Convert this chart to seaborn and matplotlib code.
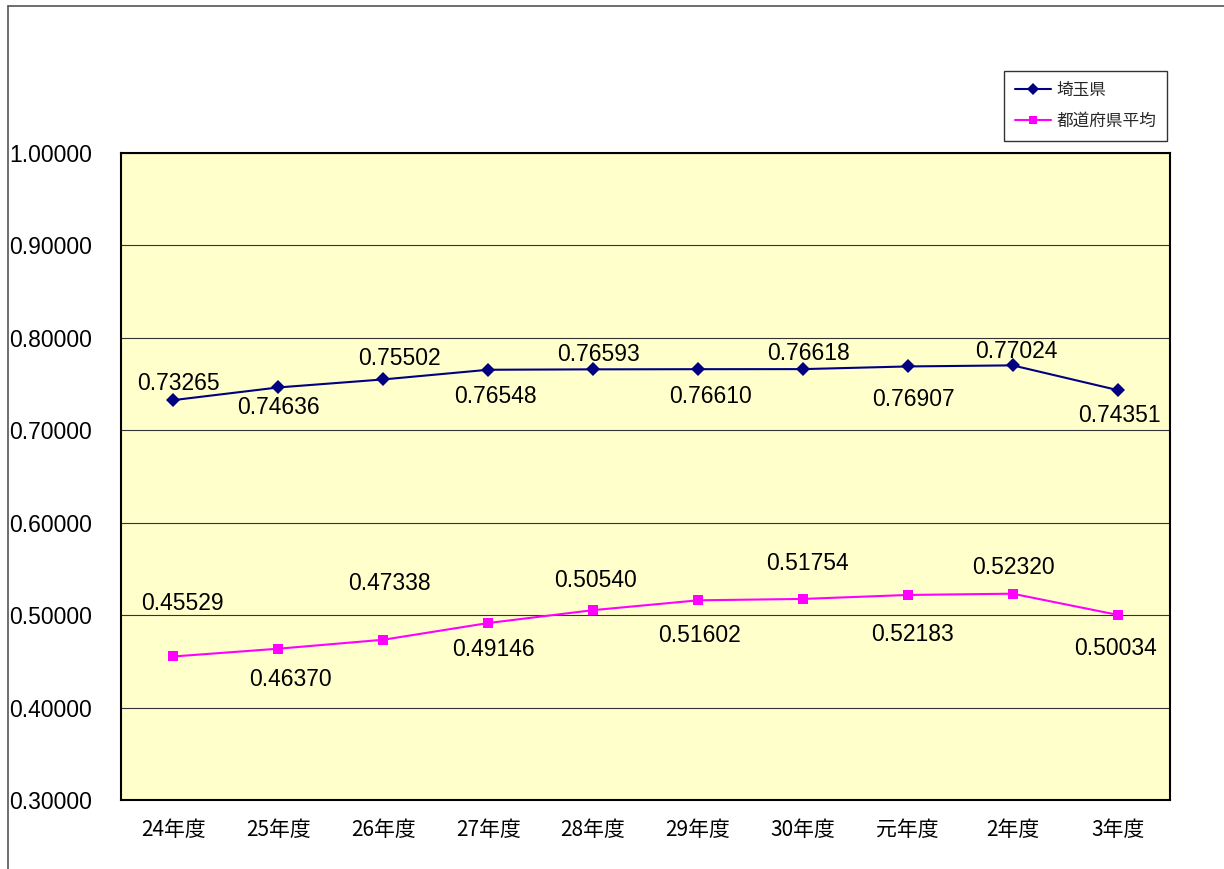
import numpy as np
import pandas as pd
import seaborn as sns
import matplotlib.pyplot as plt
from matplotlib.lines import Line2D

years = ['24年度', '25年度', '26年度', '27年度', '28年度', '29年度', '30年度', '元年度', '2年度', '3年度']
saitama = [0.73265, 0.74636, 0.75502, 0.76548, 0.76593, 0.76610, 0.76618, 0.76907, 0.77024, 0.74351]
average = [0.45529, 0.46370, 0.47338, 0.49146, 0.50540, 0.51602, 0.51754, 0.52183, 0.52320, 0.50034]
series_names = ['埼玉県', '都道府県平均']

# label offsets (pixels), (dx, dy) with dy up
off_saitama = [(5, 17), (0, -20), (16, 21), (7, -27), (5, 15), (13, -27), (6, 16), (6, -33), (4, 14), (2, -25)]
off_average = [(9, 53), (12, -31), (6, 56), (5, -26), (2, 30), (2, -35), (5, 35), (5, -40), (1, 26), (-2, -34)]

df = pd.DataFrame({
    'year': years * 2,
    'value': saitama + average,
    'series': [series_names[0]] * len(years) + [series_names[1]] * len(years),
})

sns.set_style('white')
plt.rcParams['font.family'] = ['Noto Sans CJK JP', 'DejaVu Sans']
num_font = ['Liberation Sans', 'DejaVu Sans']

fig = plt.figure(figsize=(12.24, 8.69), dpi=100)
ax = fig.add_axes([121 / 1224, 1 - 800 / 869, (1170 - 121) / 1224, (800 - 153) / 869])
ax.set_facecolor('#FFFFCC')

palette = {'埼玉県': '#000080', '都道府県平均': '#FF00FF'}
sns.lineplot(data=df, x='year', y='value', hue='series', style='series',
             markers={'埼玉県': 'D', '都道府県平均': 's'}, dashes=False,
             palette=palette, ax=ax, linewidth=1.5, markersize=7,
             markeredgewidth=0, sort=False)

ticks = np.arange(0.3, 1.0001, 0.1)
ax.set_ylim(0.3, 1.0)
ax.set_xlim(-0.5, len(years) - 0.5)
ax.set_yticks(ticks)
ax.set_yticklabels([f'{v:.5f}' for v in ticks], fontsize=16.5, family=num_font, color='black')
ax.yaxis.grid(True, color='#333333', linewidth=0.8)
ax.set_axisbelow(True)
ax.tick_params(axis='y', length=0, pad=21)

ax.set_xticks(range(len(years)))
ax.set_xticklabels(years, fontsize=15, color='black')
ax.set_xticks(np.arange(0.5, len(years) - 1, 1.0), minor=True)
ax.tick_params(axis='x', which='major', length=0, pad=14)
ax.tick_params(axis='x', which='minor', direction='in', length=6, width=1, color='#333333')
ax.set_xlabel('')
ax.set_ylabel('')
for s in ax.spines.values():
    s.set_color('black')
    s.set_linewidth(1.5)

# data labels
for vals, offs in [(saitama, off_saitama), (average, off_average)]:
    for i, (v, (dx, dy)) in enumerate(zip(vals, offs)):
        ax.annotate(f'{v:.5f}', (i, v), xytext=(dx * 0.72, dy * 0.72), textcoords='offset points',
                    ha='center', va='center', fontsize=16.5, family=num_font, color='black')

leg = ax.legend(loc='upper right', bbox_to_anchor=(1167 / 1224, 1 - 71 / 869),
                bbox_transform=fig.transFigure, borderaxespad=0, fontsize=12, frameon=True,
                fancybox=False, edgecolor='black', handlelength=2.2, handletextpad=0.3,
                labelspacing=0.85, borderpad=0.65, markerscale=0.9)
leg.get_frame().set_linewidth(1.0)

# outer chart frame
fig.add_artist(Line2D([8 / 1224, 8 / 1224], [0, 1 - 6 / 869], color='#555555', linewidth=1.2, transform=fig.transFigure))
fig.add_artist(Line2D([8 / 1224, 1], [1 - 6 / 869, 1 - 6 / 869], color='#555555', linewidth=1.2, transform=fig.transFigure))

plt.savefig('out.png', dpi=100)
